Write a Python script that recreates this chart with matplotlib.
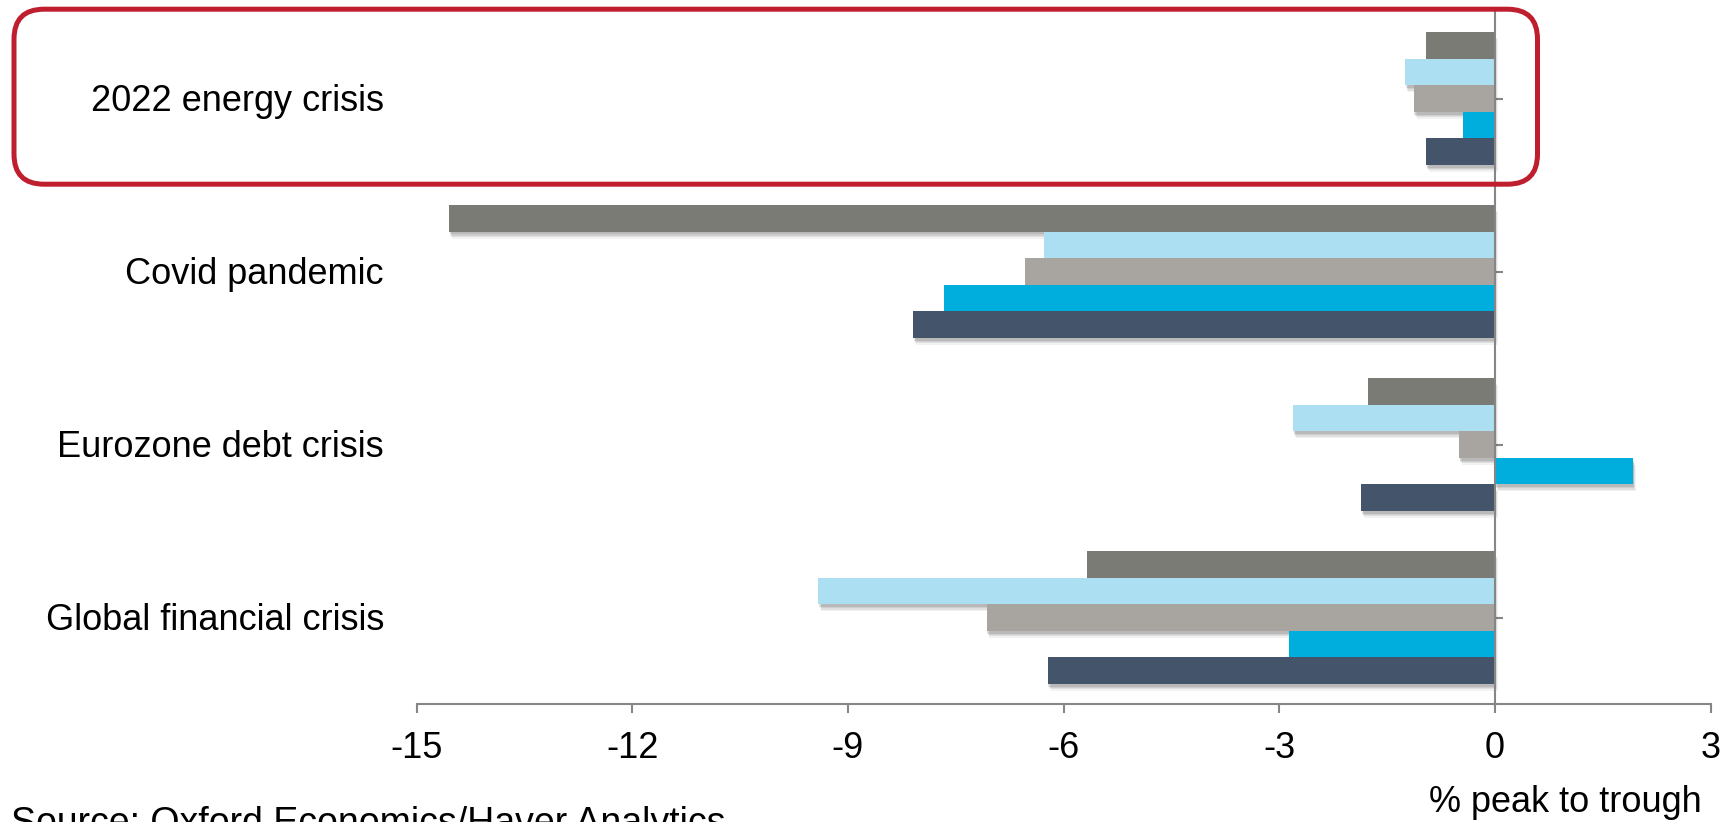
import matplotlib
matplotlib.use("Agg")
import matplotlib.pyplot as plt
import matplotlib.patheffects as pe
from matplotlib.patches import FancyBboxPatch
import numpy as np

plt.rcParams['font.family'] = ['Liberation Sans', 'DejaVu Sans']
plt.rcParams['axes.unicode_minus'] = False

# Episodes, bottom to top
episodes = ["Global financial crisis", "Eurozone debt crisis", "Covid pandemic", "2022 energy crisis"]

# Peak-to-trough change (%) for each of the five series, per episode (bottom to top)
series_1 = [-5.68, -1.76, -14.55, -0.96]   # top bar in each group
series_2 = [-9.41, -2.81, -6.27, -1.25]
series_3 = [-7.07, -0.50, -6.53, -1.13]
series_4 = [-2.86, 1.92, -7.67, -0.45]
series_5 = [-6.22, -1.86, -8.09, -0.96]   # bottom bar in each group

series = [series_1, series_2, series_3, series_4, series_5]
colors = ["#7b7b76", "#acdff2", "#a8a5a0", "#00aedd", "#44546a"]

x_ticks = [-15, -12, -9, -6, -3, 0, 3]

W, H, DPI = 17.24, 8.22, 100
fig = plt.figure(figsize=(W, H), dpi=DPI)
ax = fig.add_axes([416.5 / 1724, 1 - 704 / 822, (1710.7 - 416.5) / 1724, (704 - 12) / 822])

y = np.arange(len(episodes))
h = 0.1535
offsets = [2 * h, h, 0, -h, -2 * h]

shadow = [
    pe.SimplePatchShadow(offset=(2.0, -5.0), shadow_rgbFace="#000000", alpha=0.05),
    pe.SimplePatchShadow(offset=(1.5, -4.0), shadow_rgbFace="#000000", alpha=0.07),
    pe.SimplePatchShadow(offset=(1.0, -3.0), shadow_rgbFace="#000000", alpha=0.08),
    pe.SimplePatchShadow(offset=(0.5, -2.0), shadow_rgbFace="#000000", alpha=0.10),
    pe.Normal(),
]

for vals, off, c in zip(series, offsets, colors):
    bars = ax.barh(y + off, vals, height=h, color=c, edgecolor="none", zorder=2)
    for b in bars:
        b.set_path_effects(shadow)

ax.set_xlim(-15, 3)
ax.set_ylim(-0.5, 3.5)

spine_col = "#868686"
for s in ["top", "right"]:
    ax.spines[s].set_visible(False)
ax.spines["left"].set_position(("data", 0))
ax.spines["left"].set_color(spine_col)
ax.spines["left"].set_linewidth(1.5)
ax.spines["left"].set_zorder(3)
ax.spines["bottom"].set_color(spine_col)
ax.spines["bottom"].set_linewidth(1.5)

fs = 26
ax.set_xticks(x_ticks)
ax.set_xticklabels([str(t) for t in x_ticks], fontsize=fs)
ax.tick_params(axis="x", direction="out", length=6.5, width=1.5, color=spine_col, pad=13)
ax.set_yticks(y)
ax.tick_params(axis="y", direction="in", length=6, width=1.5, color=spine_col, labelleft=False)

# Episode labels, right-aligned to the left of the plot
label_tr = matplotlib.transforms.blended_transform_factory(fig.transFigure, ax.transData)
for yi, name in zip(y, episodes):
    ax.text(384 / 1724, yi - 13 / 173.2, name, transform=label_tr, ha="right", va="baseline",
            fontsize=fs, color="black")

fig.text(1565 / 1724, 1 - 812 / 822, "% peak to trough", ha="center", va="baseline",
         fontsize=fs, color="black")
fig.text(11 / 1724, -12 / 822, "Source: Oxford Economics/Haver Analytics", ha="left", va="baseline",
         fontsize=27, color="black")

# Highlight frame around the latest episode
box = FancyBboxPatch((14 / DPI, (822 - 184.2) / DPI), (1537.5 - 14) / DPI, (184.2 - 9.2) / DPI,
                     boxstyle="round,pad=0,rounding_size=0.30", transform=fig.dpi_scale_trans,
                     facecolor="none", edgecolor="#be1e2d", linewidth=3.6, zorder=10)
fig.patches.append(box)

fig.savefig("out.png", dpi=DPI)
